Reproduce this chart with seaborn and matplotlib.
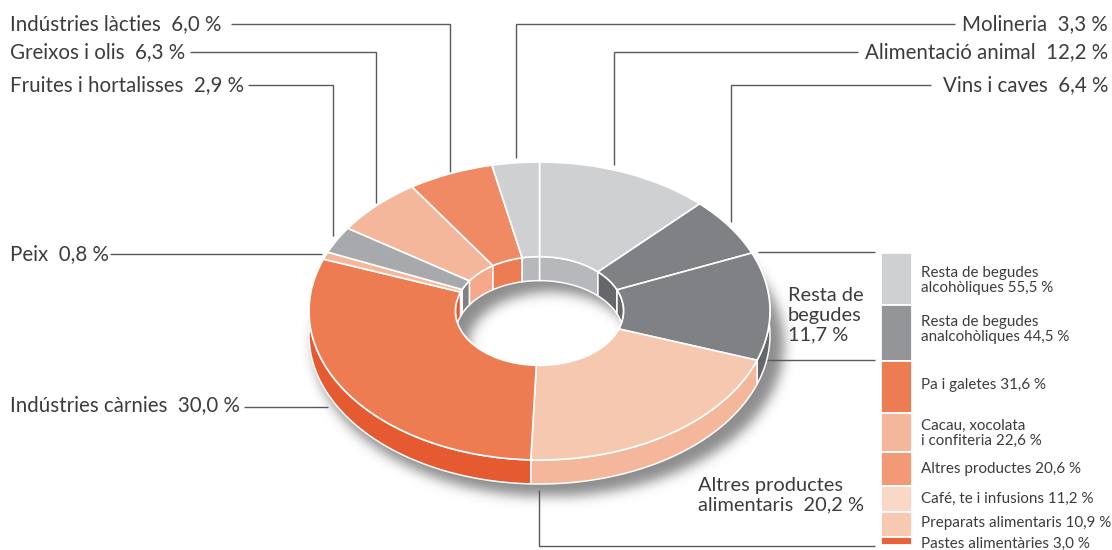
import numpy as np
import matplotlib
matplotlib.use("Agg")
import matplotlib.pyplot as plt
import seaborn as sns

# ---- data ----
sectors = ["Alimentació animal", "Vins i caves", "Resta de begudes", "Altres productes alimentaris",
           "Indústries càrnies", "Peix", "Fruites i hortalisses", "Greixos i olis",
           "Indústries làcties", "Molineria"]
shares = [12.2, 6.4, 11.7, 20.2, 30.0, 0.8, 2.9, 6.3, 6.0, 3.3]
top_colors = ["#cfd0d2", "#808184", "#808184", "#f6c8b0", "#ee7c53", "#f5b79b", "#a7a9ac", "#f5b79b", "#f08a64", "#cfd0d2"]
outer_wall_colors = ["#a7a9ac", "#66676a", "#66676a", "#f5b79b", "#e65a32", "#f29a75", "#808184", "#f29a75", "#ee7c53", "#a7a9ac"]
inner_wall_colors = ["#b7b8bb", "#66676a", "#66676a", "#f5b79b", "#e65a32", "#f2f2f2", "#808184", "#f5a98a", "#ee7c53", "#b7b8bb"]

breakdown_labels = ["Resta de begudes\nalcohòliques 55,5 %", "Resta de begudes\nanalcohòliques 44,5 %",
                    "Pa i galetes 31,6 %", "Cacau, xocolata\ni confiteria 22,6 %", "Altres productes 20,6 %",
                    "Café, te i infusions 11,2 %", "Preparats alimentaris 10,9 %", "Pastes alimentàries 3,0 %"]
breakdown_colors = ["#cfd0d2", "#939598", "#ee7c53", "#f5b79b", "#f29a75", "#fad8c8", "#f7c9b1", "#e8633a"]
key_heights = [52, 56, 52, 38.5, 34.5, 26, 24.7, 8.3]
breakdown_text_y = [280.5, 329.5, 384.5, 433.5, 469.5, 498.5, 522.5, 543.5]

left_labels = ["Indústries làcties  6,0 %", "Greixos i olis  6,3 %", "Fruites i hortalisses  2,9 %",
               "Peix  0,8 %", "Indústries càrnies  30,0 %"]
left_label_y = [24, 52, 85, 254, 405]
right_labels = ["Molineria  3,3 %", "Alimentació animal  12,2 %", "Vins i caves  6,4 %"]
right_label_y = [24, 52, 85]

leaders = [([231, 450, 450], [24, 24, 172]),
           ([190, 376, 376], [52, 52, 203]),
           ([248, 333, 333], [85, 85, 236]),
           ([955, 516, 516], [24, 24, 158]),
           ([858, 614, 614], [52, 52, 165]),
           ([931, 731, 731], [85, 85, 222]),
           ([110, 322], [254, 254]),
           ([244, 328], [407, 407]),
           ([758, 875], [252, 252]),
           ([762, 875], [360, 360]),
           ([539, 539, 875], [490, 546, 546])]

# ---- geometry of the drawing (pixels) ----
W, H = 1112, 550
CX, CY, RX, RY = 539.5, 311.0, 230.5, 149.0
HOLE = 0.365
DEPTH = 24.0

sns.set_theme(style="white")
plt.rcParams["font.family"] = ["Lato", "DejaVu Sans"]
TXT = "#3c3c3e"
LINE = "#58595b"

fig = plt.figure(figsize=(W / 100, H / 100), dpi=100, facecolor="white")
ax = fig.add_axes([0, 0, 1, 1])

# soft cast shadow
yy, xx = np.mgrid[0:H, 0:W]
sx, sy = CX + 9, CY + DEPTH + 9
outer = ((xx - sx) / (RX * 1.02)) ** 2 + ((yy - sy) / (RY * 1.02)) ** 2 <= 1
inner = ((xx - sx - 2) / (RX * HOLE * 0.98)) ** 2 + ((yy - sy - 1) / (RY * HOLE * 0.98)) ** 2 <= 1
mask = (outer & ~inner).astype(float)
fy = np.fft.fftfreq(H)[:, None]
fx = np.fft.rfftfreq(W)[None, :]
sigma = 6.0
blur = np.fft.irfft2(np.fft.rfft2(mask) * np.exp(-2 * (np.pi * sigma) ** 2 * (fx ** 2 + fy ** 2)), s=mask.shape)
shadow = np.zeros((H, W, 4))
shadow[..., :3] = 0.3
shadow[..., 3] = np.clip(blur, 0, 1) * 0.64
ax.imshow(shadow, extent=(0, W, H, 0), interpolation="bilinear", zorder=0)
ax.set_xlim(0, W)
ax.set_ylim(H, 0)
ax.set_aspect("auto")
ax.axis("off")

for xs, ys in leaders:
    ax.plot(xs, ys, color=LINE, lw=1.0, solid_joinstyle="miter", solid_capstyle="butt", zorder=1)

for s, y in zip(left_labels, left_label_y):
    ax.text(10, y, s, fontsize=14.8, color=TXT, ha="left", va="center")
for s, y in zip(right_labels, right_label_y):
    ax.text(1108, y, s, fontsize=14.8, color=TXT, ha="right", va="center")
ax.text(788, 315, "Resta de\nbegudes\n11,7 %", fontsize=14.4, color=TXT, ha="left", va="center", linespacing=1.17)
ax.text(698, 495, "Altres productes\nalimentaris  20,2 %", fontsize=14.4, color=TXT, ha="left", va="center", linespacing=1.17)

# stacked key
palette = sns.color_palette(breakdown_colors)
tops = np.concatenate([[253], 253 + np.cumsum(key_heights)[:-1]])
ax.bar([896] * len(key_heights), key_heights, width=31, bottom=tops, color=palette,
       edgecolor="white", linewidth=1.3, zorder=2)
for s, y in zip(breakdown_labels, breakdown_text_y):
    ax.text(921, y, s, fontsize=10.9, color=TXT, ha="left", va="center", linespacing=1.15)

# donut
pa = fig.add_axes([(CX - RX) / W, 1 - (CY + RY) / H, 2 * RX / W, 2 * RY / H])
pa.patch.set_alpha(0)
wedges, _ = pa.pie(shares, colors=top_colors, startangle=90, counterclock=False, radius=1,
                   wedgeprops=dict(width=1 - HOLE, edgecolor="white", linewidth=1.2, zorder=5))
pa.set_aspect("auto")
pa.set_xlim(-1, 1)
pa.set_ylim(-1, 1)
pa.axis("off")

d = DEPTH / RY

def wall(t1, t2, r, color, z):
    t = np.radians(np.linspace(t1, t2, 80))
    x, y = r * np.cos(t), r * np.sin(t)
    pa.fill(np.r_[x, x[::-1]], np.r_[y, y[::-1] - d], facecolor=color, edgecolor="white",
            linewidth=1.1, zorder=z, clip_on=False)

for w, oc, ic in zip(wedges, outer_wall_colors, inner_wall_colors):
    wall(w.theta1, w.theta2, 1.0, oc, 2)
    wall(w.theta1, w.theta2, HOLE, ic, 3)

fig.savefig("out.png", dpi=100, facecolor="white")
